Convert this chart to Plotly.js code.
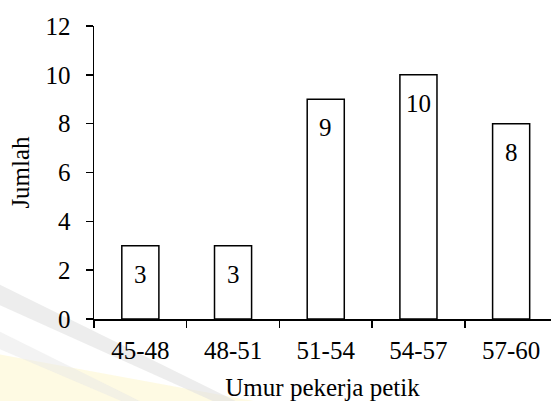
<!DOCTYPE html>
<html>
<head>
<meta charset="utf-8">
<script src="https://cdn.plot.ly/plotly-3.0.1.min.js"></script>
<style>html,body{margin:0;padding:0;background:#fff;}#chart{width:551px;height:401px;}</style>
</head>
<body>
<div id="chart"></div>
<script>
const categories = ["45-48", "48-51", "51-54", "54-57", "57-60"];
const counts = [3, 3, 9, 10, 8];
const yTicks = [0, 2, 4, 6, 8, 10, 12];
const xTitle = "Umur pekerja petik";
const yTitle = "Jumlah";

const FONT = "Liberation Serif";
const FS = 25;

const trace = {
  type: "bar",
  x: categories,
  y: counts,
  width: 0.4,
  marker: { color: "#ffffff", line: { color: "#000000", width: 1.5 } },
  hoverinfo: "none",
  showlegend: false
};

const annotations = categories.map((c, i) => ({
  x: c, y: counts[i], xref: "x", yref: "y",
  text: String(counts[i]), showarrow: false,
  yanchor: "top", yshift: -13,
  font: { family: FONT, size: FS, color: "#000" }
}));

const shapes = [
  { type: "path", xref: "paper", yref: "paper", layer: "below",
    path: "M -0.21 -0.12 L 0.35 -0.28 L -0.21 -0.28 Z",
    fillcolor: "rgba(253,248,215,0.7)", line: { width: 0 } },
  { type: "path", xref: "paper", yref: "paper", layer: "below",
    path: "M -0.21 0.12 L 0.31 -0.28 L 0.26 -0.28 L -0.21 0.05 Z",
    fillcolor: "rgba(225,225,225,0.6)", line: { width: 0 } },
  { type: "path", xref: "paper", yref: "paper", layer: "below",
    path: "M -0.21 -0.04 L 0.1 -0.28 L 0.06 -0.28 L -0.21 -0.1 Z",
    fillcolor: "rgba(232,232,232,0.5)", line: { width: 0 } }
];

const layout = {
  width: 551, height: 401,
  margin: { l: 94, r: 0, t: 26, b: 82, pad: 0 },
  paper_bgcolor: "#ffffff", plot_bgcolor: "rgba(0,0,0,0)",
  font: { family: FONT, size: FS, color: "#000" },
  bargap: 0.6,
  xaxis: {
    type: "category",
    range: [-0.5, 4.43],
    tickson: "boundaries",
    ticks: "outside", ticklen: 7, tickwidth: 1.5, tickcolor: "#000",
    showline: true, linecolor: "#000", linewidth: 1.5,
    showgrid: false, zeroline: false,
    ticklabelstandoff: 8,
    tickfont: { family: FONT, size: FS, color: "#000" },
    title: { text: xTitle, standoff: 16, font: { family: FONT, size: FS, color: "#000" } },
    automargin: false
  },
  yaxis: {
    range: [0, 12],
    tickvals: yTicks,
    ticks: "outside", ticklen: 7, tickwidth: 1.5, tickcolor: "#000",
    showline: true, linecolor: "#000", linewidth: 1.5,
    showgrid: false, zeroline: false,
    ticklabelstandoff: 10,
    tickfont: { family: FONT, size: FS, color: "#000" },
    title: { text: yTitle, standoff: 9, font: { family: FONT, size: FS, color: "#000" } },
    automargin: false
  },
  annotations: annotations,
  shapes: shapes
};

Plotly.newPlot("chart", [trace], layout, { staticPlot: true, displayModeBar: false });
</script>
</body>
</html>
